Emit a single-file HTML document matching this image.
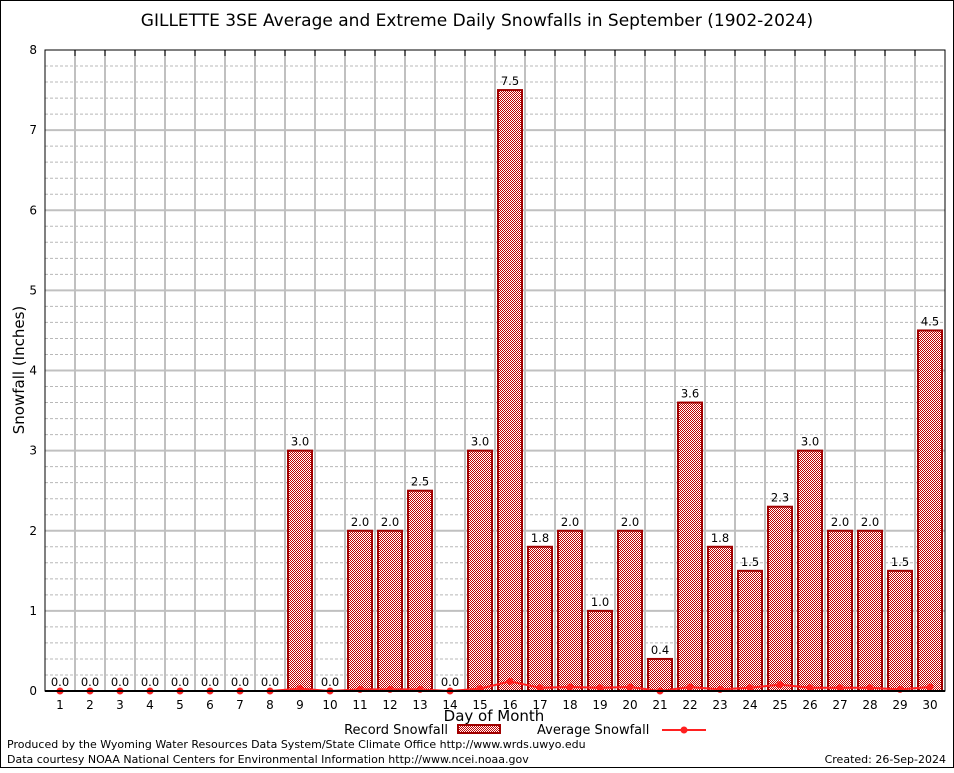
<!DOCTYPE html>
<html><head><meta charset="utf-8"><style>
body{margin:0;background:#fff;}
svg text{font-family:"DejaVu Sans","Liberation Sans",sans-serif;}
</style></head><body>
<svg id="chart" width="954" height="768" xmlns="http://www.w3.org/2000/svg">
<defs>
<pattern id="chk" width="2" height="2" patternUnits="userSpaceOnUse">
<rect width="2" height="2" fill="#fff"/><rect width="1" height="1" fill="#c00000"/><rect x="1" y="1" width="1" height="1" fill="#c00000"/>
</pattern>
</defs>
<rect x="0.5" y="0.5" width="953" height="767" fill="#fff" stroke="#000"/>
<text x="477" y="26" font-size="17" text-anchor="middle">GILLETTE 3SE Average and Extreme Daily Snowfalls in September (1902-2024)</text>
<g id="grid"></g>
<g id="bars"></g>
<g id="avg"></g>
<g id="axes"></g>
<text x="24" y="370" font-size="15" text-anchor="middle" transform="rotate(-90 24 370)">Snowfall (Inches)</text>
<text x="494" y="721" font-size="15" text-anchor="middle">Day of Month</text>
<g>
<text x="448" y="734" font-size="13" text-anchor="end">Record Snowfall</text>
<rect x="458" y="725" width="42" height="8" fill="url(#chk)" stroke="#a00000" stroke-width="2"/>
<text x="537" y="734" font-size="13">Average Snowfall</text>
<line x1="662" y1="730" x2="706" y2="730" stroke="#ff2020" stroke-width="2"/>
<circle cx="684" cy="730" r="3.5" fill="#ff2020"/>
</g>
<text x="7" y="748" font-size="11">Produced by the Wyoming Water Resources Data System/State Climate Office http://www.wrds.uwyo.edu</text>
<text x="7" y="763" font-size="11">Data courtesy NOAA National Centers for Environmental Information http://www.ncei.noaa.gov</text>
<text x="946" y="763" font-size="11" text-anchor="end">Created: 26-Sep-2024</text>
</svg>
<script>
const days=[1,2,3,4,5,6,7,8,9,10,11,12,13,14,15,16,17,18,19,20,21,22,23,24,25,26,27,28,29,30];
const recordSnow=[0,0,0,0,0,0,0,0,3.0,0,2.0,2.0,2.5,0,3.0,7.5,1.8,2.0,1.0,2.0,0.4,3.6,1.8,1.5,2.3,3.0,2.0,2.0,1.5,4.5];
const avgSnow=[0,0,0,0,0,0,0,0,0.03,0,0.02,0.02,0.02,0,0.03,0.12,0.04,0.05,0.04,0.05,0,0.05,0.02,0.04,0.08,0.04,0.04,0.04,0.02,0.05];
const yTicks=[0,1,2,3,4,5,6,7,8];

const NS="http://www.w3.org/2000/svg";
const L=45,R=945,T=50,B=691,yMax=8;
const xS=d=>L+(d-0.5)*(R-L)/30;
const yS=v=>B-v*(B-T)/yMax;
function mk(tag,attrs,parent,txt){const e=document.createElementNS(NS,tag);for(const k in attrs)e.setAttribute(k,attrs[k]);if(txt!==undefined)e.textContent=txt;parent.appendChild(e);return e;}
const grid=document.getElementById('grid'),bars=document.getElementById('bars'),avg=document.getElementById('avg'),axes=document.getElementById('axes');
for(let i=1;i<yMax*5;i++){const v=i/5;const y=yS(v);
  const major=i%5===0;
  const g=mk('line',{x1:L,x2:R,y1:y,y2:y,stroke:major?'#c0c0c0':'#b8b8b8','stroke-width':major?2:1,'stroke-dasharray':major?'':'3,2'},grid);
  
  
}
for(let k=1;k<30;k++){const x=L+k*(R-L)/30;
  const g=mk('line',{x1:x,x2:x,y1:T,y2:B,stroke:'#c0c0c0','stroke-width':2},grid);
  
  
}
days.forEach((d,i)=>{const v=recordSnow[i];const cx=xS(d);
  if(v>0){const r=mk('rect',{x:cx-12,y:yS(v),width:24,height:B-yS(v),fill:'url(#chk)',stroke:'#a00000','stroke-width':2},bars);
    
    }
  const t=mk('text',{x:cx,y:yS(v)-5,'font-size':11.5,'text-anchor':'middle'},bars,v.toFixed(1));
  
  
});
const pts=days.map((d,i)=>xS(d)+','+yS(avgSnow[i])).join(' ');
const pl=mk('polyline',{points:pts,fill:'none',stroke:'#ff2020','stroke-width':2},avg);


days.forEach((d,i)=>{const c=mk('circle',{cx:xS(d),cy:yS(avgSnow[i]),r:3.5,fill:'#ff2020'},avg);
  
  });
const fr=mk('rect',{x:L,y:T,width:R-L,height:B-T,fill:'none',stroke:'#000','stroke-width':1},axes);


const xa=mk('line',{x1:L,x2:R,y1:B,y2:B,stroke:'#000','stroke-width':2},axes);


yTicks.forEach(v=>{const t=mk('text',{x:37,y:yS(v)+4,'font-size':12,'text-anchor':'end','font-family':'Liberation Serif, serif'},axes,String(v));
  
  });
days.forEach(d=>{const t=mk('text',{x:xS(d),y:709,'font-size':12,'text-anchor':'middle','font-family':'Liberation Serif, serif'},axes,String(d));
  
  });
for(let k=1;k<30;k++){const x=L+k*(R-L)/30;
  const tk=mk('line',{x1:x,x2:x,y1:T,y2:T+6,stroke:'#000'},axes);
  
  }
</script>
</body></html>
